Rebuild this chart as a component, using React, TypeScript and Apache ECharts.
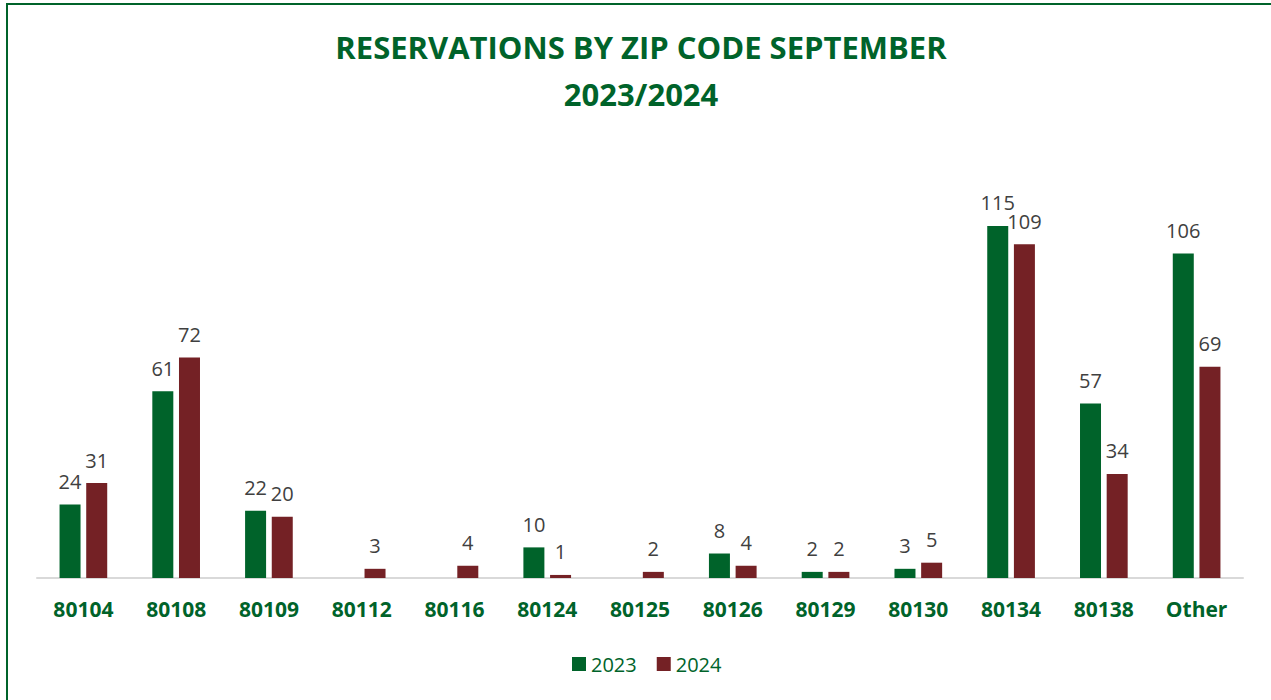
import React, { useEffect, useRef } from "react";
import * as echarts from "echarts";

const categories = ["80104", "80108", "80109", "80112", "80116", "80124", "80125", "80126", "80129", "80130", "80134", "80138", "Other"];
const values2023: (number | null)[] = [24, 61, 22, null, null, 10, null, 8, 2, 3, 115, 57, 106];
const values2024: (number | null)[] = [31, 72, 20, 3, 4, 1, 2, 4, 2, 5, 109, 34, 69];
const seriesNames = ["2023", "2024"];

const GREEN = "#00632A";
const MAROON = "#742125";
const FONT = "'Open Sans', 'Liberation Sans', sans-serif";

export default function App() {
  const ref = useRef<HTMLDivElement>(null);
  useEffect(() => {
    document.body.style.margin = "0";
    const chart = echarts.init(ref.current!, null, { renderer: "svg" });
    const labelStyle = {
      show: true,
      position: "top" as const,
      distance: 13,
      color: "#404040",
      fontSize: 20,
      fontFamily: FONT,
    };
    chart.setOption({
      animation: false,
      backgroundColor: "#ffffff",
      title: {
        text: "RESERVATIONS BY ZIP CODE SEPTEMBER\n2023/2024",
        left: 636,
        textAlign: "center",
        top: 18,
        textStyle: {
          color: GREEN,
          fontSize: 31,
          fontWeight: "bold",
          fontFamily: FONT,
          lineHeight: 47,
        },
      },
      legend: {
        bottom: 21,
        left: 567,
        itemWidth: 14,
        itemHeight: 14,
        itemGap: 20,
        icon: "rect",
        textStyle: { color: GREEN, fontSize: 20, fontFamily: FONT },
        data: seriesNames,
      },
      grid: { left: 37, right: 28, top: 180, bottom: 122, containLabel: false },
      xAxis: {
        type: "category",
        data: categories,
        axisLine: { lineStyle: { color: "#D9D9D9", width: 2 } },
        axisTick: { show: false },
        axisLabel: {
          color: GREEN,
          fontSize: 21,
          fontWeight: "bold",
          fontFamily: FONT,
          margin: 20,
        },
      },
      yAxis: {
        type: "value",
        min: 0,
        max: 130,
        show: false,
        splitLine: { show: false },
      },
      graphic: [
        {
          type: "rect",
          shape: { x: 7, y: 4, width: 1400, height: 900 },
          style: { fill: "none", stroke: GREEN, lineWidth: 2 },
          silent: true,
          z: 100,
        },
      ],
      series: [
        {
          name: seriesNames[0],
          type: "bar",
          data: values2023,
          itemStyle: { color: GREEN },
          barWidth: 21,
          barGap: "27%",
          label: labelStyle,
        },
        {
          name: seriesNames[1],
          type: "bar",
          data: values2024,
          itemStyle: { color: MAROON },
          barWidth: 21,
          barGap: "27%",
          label: labelStyle,
        },
      ],
    });
    return () => chart.dispose();
  }, []);
  return <div ref={ref} style={{ width: 1271, height: 700 }} />;
}
